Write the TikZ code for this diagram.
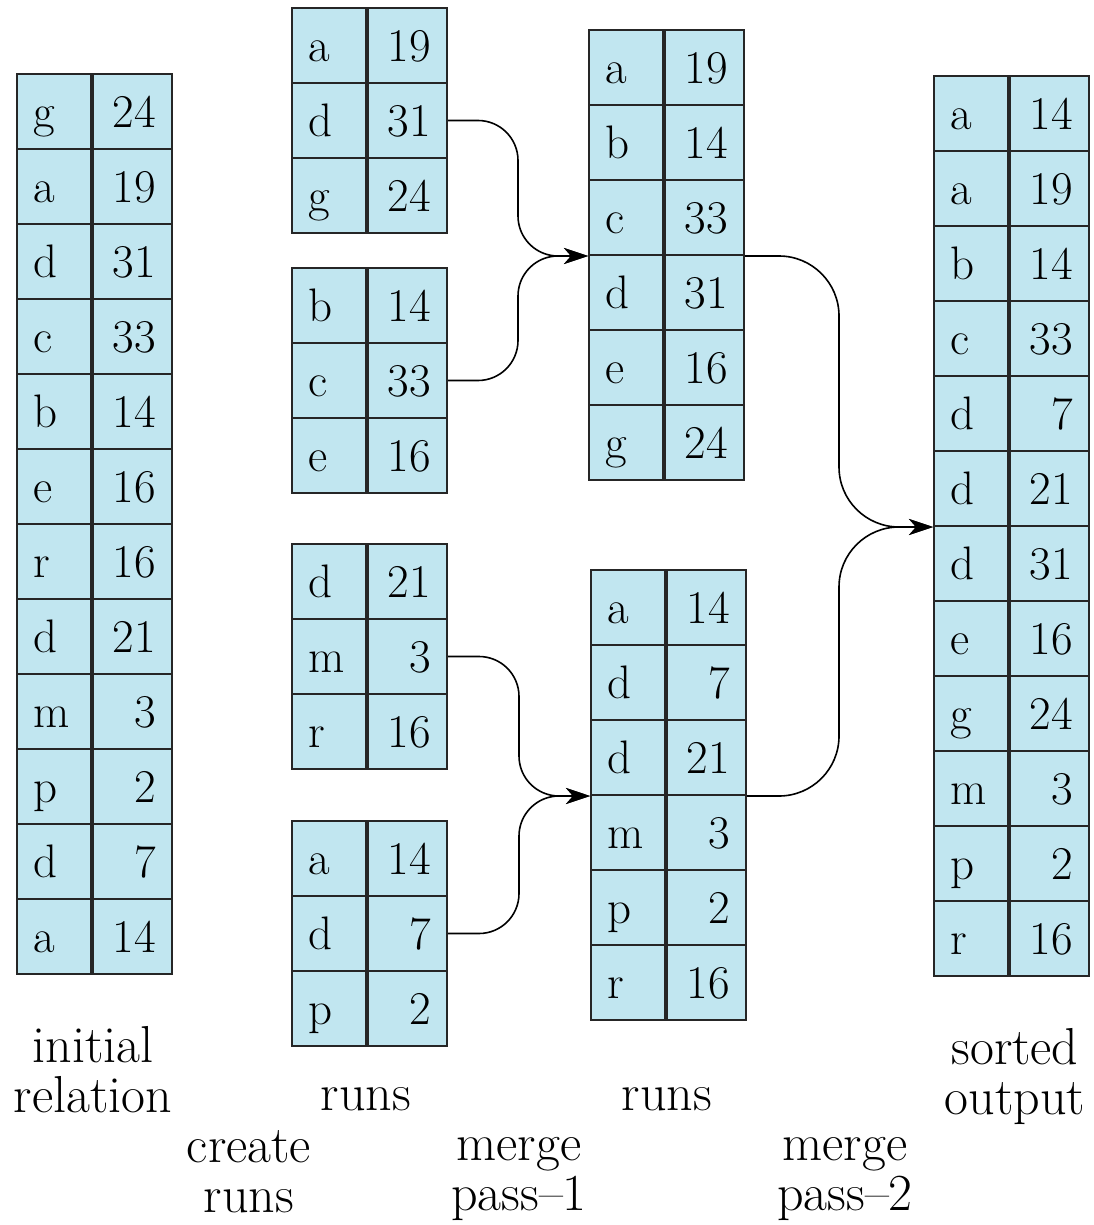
\documentclass[tikz,border=0pt]{standalone}
\usepackage{fontspec}
\usetikzlibrary{positioning,calc,arrows.meta}
\definecolor{cellblue}{RGB}{193,230,240}
\definecolor{cellline}{RGB}{38,38,38}

\begin{document}
\begin{tikzpicture}[x=0.5pt, y=-0.5pt,
    cell/.style={draw=cellline, fill=cellblue, line width=1pt, minimum height=37.5pt,
      inner ysep=0pt, text height=16pt, text depth=0pt, font=\fontsize{23.5}{26}\selectfont},
    keycell/.style={cell, anchor=north west, text width=21pt, inner xsep=8pt, align=left},
    valcell/.style={cell, text width=23.5pt, inner xsep=8pt, align=right},
    merge/.style={draw=black, line width=0.8pt, rounded corners=20pt,
      -{Stealth[length=12pt, width=8pt, inset=3.5pt]}},
    caption/.style={font=\fontsize{26}{25}\selectfont, align=center, anchor=base}]

    \useasboundingbox (0,0) rectangle (1093,1225);

    % Parameters
    \def\rowh{75} % row height (px)

    % one table: name, left x, top y, key/value rows
    \def\runtable#1#2#3#4{%
        \foreach \k/\v [count=\i] in {#4} {
            \node[keycell] (#1k\i) at (#2, {#3+(\i-1)*\rowh}) {\k};
            \node[valcell, right=0pt of #1k\i] (#1v\i) {\v};
        }
    }

    % Initial relation
    \runtable{ini}{16}{73}{g/24,a/19,d/31,c/33,b/14,e/16,r/16,d/21,m/3,p/2,d/7,a/14}

    % Runs after create runs
    \runtable{runa}{291}{7}{a/19,d/31,g/24}
    \runtable{runb}{291}{267}{b/14,c/33,e/16}
    \runtable{runc}{291}{543}{d/21,m/3,r/16}
    \runtable{rund}{291}{820}{a/14,d/7,p/2}

    % Runs after merge pass-1
    \runtable{mergea}{588}{29}{a/19,b/14,c/33,d/31,e/16,g/24}
    \runtable{mergeb}{590}{569}{a/14,d/7,d/21,m/3,p/2,r/16}

    % Sorted output
    \runtable{sorted}{933}{75}{a/14,a/19,b/14,c/33,d/7,d/21,d/31,e/16,g/24,m/3,p/2,r/16}

    % Bend points half way between the columns
    \coordinate (bendab) at ($(runav2.east)!0.5!(mergeak3.south west)$);
    \coordinate (bendcd) at ($(runcv2.east)!0.5!(mergebk3.south west)$);
    \coordinate (bendout) at ($(mergeav3.south east)!0.5!(sortedk6.south west)$);

    % Merge pass-1
    \draw[merge] (runav2.east) -| (bendab |- mergeak3.south west) -- (mergeak3.south west);
    \draw[merge] (runbv2.east) -| (bendab |- mergeak3.south west) -- (mergeak3.south west);
    \draw[merge] (runcv2.east) -| (bendcd |- mergebk3.south west) -- (mergebk3.south west);
    \draw[merge] (rundv2.east) -| (bendcd |- mergebk3.south west) -- (mergebk3.south west);

    % Merge pass-2
    \draw[merge, rounded corners=30pt] (mergeav3.south east) -| (bendout |- sortedk6.south west) -- (sortedk6.south west);
    \draw[merge, rounded corners=30pt] (mergebv3.south east) -| (bendout |- sortedk6.south west) -- (sortedk6.south west);

    % Captions
    \node[caption] (initlabel) at (93,1112) {initial\\relation};
    \node[caption] (runslabela) at (366,1110) {runs};
    \node[caption] (runslabelb) at (667,1110) {runs};
    \node[caption] (sortedlabel) at (1015,1114) {sorted\\output};
    \node[caption] (createlabel) at (249,1212) {create\\runs};
    \node[caption] (passalabel) at (519,1210) {merge\\pass--1};
    \node[caption] (passblabel) at (845,1210) {merge\\pass--2};
\end{tikzpicture}
\end{document}
